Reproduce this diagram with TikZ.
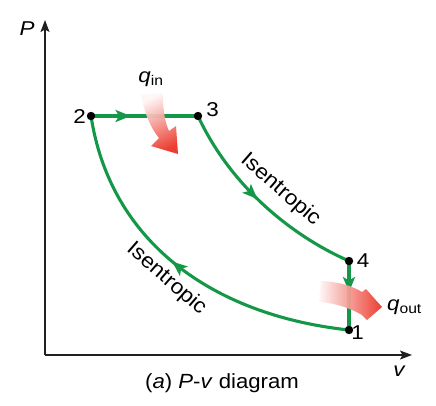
\documentclass[tikz,border=0pt]{standalone}
\usepackage{fontspec}
\setmainfont{Liberation Sans}
\usetikzlibrary{arrows.meta,decorations.markings}
\definecolor{cyclegreen}{RGB}{20,152,72}
\definecolor{heatred}{RGB}{234,52,38}
\definecolor{axisgray}{RGB}{35,31,32}
\begin{document}
\begin{tikzpicture}[x=1pt,y=-1pt,
  axis/.style={draw=axisgray, line width=1.3pt, -{Stealth[length=12pt,width=9pt,inset=2.5pt]}},
  cycleline/.style={draw=cyclegreen, line width=3.1pt},
  midarrow/.style={postaction={decorate},
    decoration={markings, mark=at position #1 with {\arrow{Stealth[length=15pt,width=12pt,inset=3.5pt,fill=cyclegreen,color=cyclegreen]}}}},
  lbl/.style={font=\fontsize{20}{24}\selectfont, inner sep=0pt, xscale=1.12},
  isen/.style={font=\fontsize{21}{24}\selectfont, inner sep=0pt},
  statedot/.style={fill=black}
]
\useasboundingbox (0,0) rectangle (436,405);

% vertices
\coordinate (O) at (45,355);
\coordinate (Ytop) at (45,20);
\coordinate (Xend) at (412,355);
\coordinate (p1) at (349,330);
\coordinate (p2) at (91,116);
\coordinate (p3) at (198,116);
\coordinate (p4) at (349,261);

% axes
\draw[axis] (O) -- (Ytop);
\draw[axis] (O) -- (Xend);

% cycle
\draw[cycleline, midarrow=0.37] (p2) -- (p3);
\draw[cycleline, midarrow=0.48] (p3) .. controls (230,185) and (290,235) .. (p4);
\draw[cycleline, midarrow=0.45] (p4) -- (p1);
\draw[cycleline, midarrow=0.53] (p1) .. controls (210,315) and (110,240) .. (p2);

% heat arrows
\shade[top color=heatred!4, middle color=heatred!45, bottom color=heatred, shading angle=25, opacity=0.95]
  (141,95) .. controls (145,114) and (150,127) .. (159,138)
  -- (151,146) -- (178,154) -- (176,126) -- (169,131)
  .. controls (164,120) and (163,108) .. (163,93) -- cycle;
\shade[left color=heatred!4, middle color=heatred!50, right color=heatred, opacity=0.95]
  (321,281) .. controls (340,282) and (352,286) .. (362,292)
  -- (366,289) -- (382,307) -- (367,320) -- (362,315)
  .. controls (350,308) and (335,303) .. (319,302) -- cycle;

% dots
\foreach \p in {p1,p2,p3,p4} \fill[statedot] (\p) circle (4.2pt);

% labels
\node[lbl] (l2) at (79.5,117) {2};
\node[lbl] (l3) at (212.5,110) {3};
\node[lbl] (l4) at (363,261) {4};
\node[lbl] (l1) at (357.5,333) {1};
\node[lbl] (lP) at (27,29) {\itshape P};
\node[lbl] (lv) at (399,371) {\itshape v};
\node[lbl] (qin) at (151,79) {\itshape q\textsubscript{\upshape in}};
\node[lbl] (qout) at (404.5,307) {\itshape q\textsubscript{\upshape out}};
\node[isen, rotate=-41, xscale=1.08] (is34) at (280.5,190) {Isentropic};
\node[isen, rotate=-41, xscale=1.08] (is12) at (166.5,279) {Isentropic};
\node[font=\fontsize{20.5}{24}\selectfont, inner sep=0pt, xscale=1.08] (cap) at (222,383) {(\textit{a}) \textit{P}-\textit{v} diagram};
\end{tikzpicture}
\end{document}
